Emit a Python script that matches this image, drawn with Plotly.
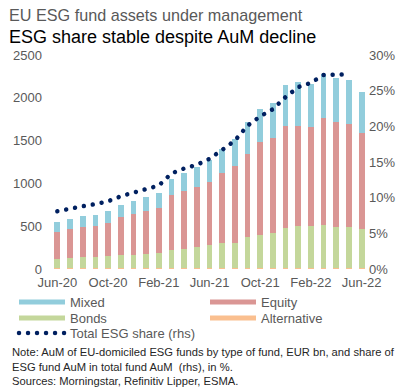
import plotly.graph_objects as go

months = ["Jun-20", "Jul-20", "Aug-20", "Sep-20", "Oct-20", "Nov-20", "Dec-20",
          "Jan-21", "Feb-21", "Mar-21", "Apr-21", "May-21", "Jun-21", "Jul-21",
          "Aug-21", "Sep-21", "Oct-21", "Nov-21", "Dec-21", "Jan-22", "Feb-22",
          "Mar-22", "Apr-22", "May-22", "Jun-22"]
tick_labels = ["Jun-20", "Oct-20", "Feb-21", "Jun-21", "Oct-21", "Feb-22", "Jun-22"]
left_ticks = [0, 500, 1000, 1500, 2000, 2500]
right_ticks = [0, 5, 10, 15, 20, 25, 30]
right_tick_text = ["0%", "5%", "10%", "15%", "20%", "25%", "30%"]

alternative = [6, 6, 6, 7, 7, 7, 8, 8, 8, 9, 9, 9, 10, 10, 10, 11, 11, 11, 12, 12, 12, 12, 12, 12, 12]
bonds = [114, 126, 130, 129, 141, 152, 159, 167, 178, 216, 228, 247, 266, 289, 297, 358,
         389, 412, 462, 485, 493, 497, 481, 481, 458]
equity = [315, 334, 357, 365, 392, 443, 474, 501, 532, 637, 679, 703, 741, 823, 897, 978,
          1079, 1103, 1200, 1173, 1153, 1250, 1227, 1204, 1114]
mixed = [109, 120, 124, 132, 132, 151, 155, 171, 171, 194, 210, 233, 255, 280, 310, 365,
         385, 408, 473, 520, 509, 516, 517, 516, 478]
esg_share = [8.1, 8.5, 8.8, 9.1, 9.5, 10.2, 10.75, 11.3, 11.7, 13.4, 14.1, 14.6, 15.45,
             16.7, 18.0, 20.1, 21.4, 22.4, 24.1, 25.5, 26.1, 27.2, 27.2, 27.3, None]

C_MIXED = "#92CDDC"
C_EQUITY = "#DA9694"
C_BONDS = "#C4D79B"
C_ALT = "#FABF8F"
C_LINE = "#002060"
FONT = "Liberation Sans, Arial, sans-serif"
GRAY = "#595959"

fig = go.Figure()
for name, vals, col in [("Alternative", alternative, C_ALT), ("Bonds", bonds, C_BONDS),
                        ("Equity", equity, C_EQUITY), ("Mixed", mixed, C_MIXED)]:
    fig.add_trace(go.Bar(x=months, y=vals, name=name, marker=dict(color=col, line_width=0),
                         showlegend=False))

fig.add_trace(go.Scatter(x=months, y=esg_share, yaxis="y2", mode="lines", showlegend=False,
                         line=dict(color=C_LINE, width=4.5, dash="dot")))

# legend entries (wide thin swatches), one legend per entry
for name, col, lg in [("Mixed", C_MIXED, "legend"), ("Equity", C_EQUITY, "legend2"),
                      ("Bonds", C_BONDS, "legend3"), ("Alternative", C_ALT, "legend4")]:
    fig.add_trace(go.Scatter(x=[None], y=[None], mode="lines", name=name, legend=lg,
                             line=dict(color=col, width=5)))
fig.add_trace(go.Scatter(x=[None], y=[None], mode="lines", name="Total ESG share (rhs)",
                         legend="legend5", line=dict(color=C_LINE, width=4.5, dash="dot")))

L, R, T, B = 51, 39, 55, 123
W, H = 407, 392
pw, ph = W - L - R, H - T - B

def px(x):
    return (x - L) / pw

def py(y):
    return (H - B - y) / ph

def legend_at(xl, yc):
    return dict(orientation="h", x=px(xl), xanchor="left", y=py(yc), yanchor="middle",
                itemwidth=46, font=dict(size=13, color=GRAY, family=FONT),
                bgcolor="rgba(0,0,0,0)")

fig.update_layout(
    width=W, height=H, margin=dict(l=L, r=R, t=T, b=B),
    barmode="stack", bargap=0.55,
    plot_bgcolor="white", paper_bgcolor="white",
    font=dict(family=FONT, size=13, color=GRAY),
    xaxis=dict(type="category", tickmode="array", tickvals=tick_labels, ticktext=tick_labels,
               showgrid=False, zeroline=False, showline=False, ticks="",
               tickfont=dict(size=13, color=GRAY), range=[-0.5, 24.5],
               ticklabelstandoff=4),
    yaxis=dict(range=[0, 2500], tickmode="array", tickvals=left_ticks, showgrid=False,
               zeroline=False, showline=False, ticks="", tickfont=dict(size=13, color=GRAY),
               ticklabelstandoff=8),
    yaxis2=dict(range=[0, 30], tickmode="array", tickvals=right_ticks, ticktext=right_tick_text,
                overlaying="y", side="right", showgrid=False, zeroline=False, showline=False,
                ticks="", tickfont=dict(size=13, color=GRAY)),
    legend=legend_at(14, 302),
    legend2=legend_at(205, 302),
    legend3=legend_at(14, 318),
    legend4=legend_at(205, 318),
    legend5=legend_at(14, 333),
    annotations=[
        dict(text="EU ESG fund assets under management", x=px(7), y=py(15),
             xref="paper", yref="paper", xanchor="left", yanchor="middle", showarrow=False,
             font=dict(size=16.2, color=GRAY, family=FONT)),
        dict(text="ESG share stable despite AuM decline", x=px(7), y=py(37),
             xref="paper", yref="paper", xanchor="left", yanchor="middle", showarrow=False,
             font=dict(size=18, color="black", family=FONT)),
        dict(text="Note: AuM of EU-domiciled ESG funds by type of fund, EUR bn, and share of<br>"
                  "ESG fund AuM in total fund AuM  (rhs), in %.<br>"
                  "Sources: Morningstar, Refinitiv Lipper, ESMA.",
             x=px(10), y=py(344), xref="paper", yref="paper", xanchor="left", yanchor="top",
             align="left", showarrow=False, font=dict(size=11.2, color="#262626", family=FONT)),
    ],
)

post = """
document.body.style.margin = '0';
document.body.style.overflow = 'hidden';
document.querySelectorAll('path.js-line').forEach(function(p){
  if ((p.style.strokeDasharray || '').length > 0 && p.style.strokeDasharray !== 'none') {
    p.style.strokeLinecap = 'round';
    p.style.strokeDasharray = '0.01px, 9px';
  }
});
"""

fig.write_html("out.html", post_script=post, config={"displayModeBar": False})
